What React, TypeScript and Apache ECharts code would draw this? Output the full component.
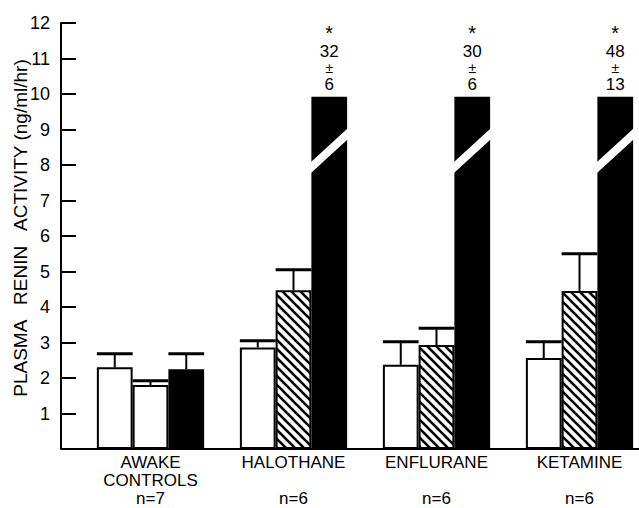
import React, { useEffect, useRef } from "react";
import * as echarts from "echarts";

// ---- data ----
const categories = ["AWAKE\nCONTROLS", "HALOTHANE", "ENFLURANE", "KETAMINE"];
const groupSizes = ["n=7", "n=6", "n=6", "n=6"];
const whiteMeans = [2.3, 2.86, 2.37, 2.56];
const whiteErr = [0.38, 0.19, 0.65, 0.46];
const hatchMeans = [1.8, 4.47, 2.93, 4.45];
const hatchErr = [0.12, 0.58, 0.47, 1.05];
const hatchedItems = [false, true, true, true];
const blackMeans = [2.25, 32, 30, 48];
const blackErr = [0.43, 6, 6, 13];
const yMin = 0;
const yMax = 12;
const yInterval = 1;

// ---- layout / style constants ----
const W = 639;
const H = 508;
const GRID_LEFT = 79;
const GRID_TOP = 23;
const GRID_W = 572;
const GRID_H = 426;
const Y_OFFSET = 18;
const BAR_FRAC = 0.25;
const BREAK_TOP = 9.92; // displayed height of broken bars
const BREAK_LOW = 7.9;
const BREAK_HIGH = 8.9;
const FONT = "'Liberation Sans', Arial, sans-serif";

function makeHatch(): HTMLCanvasElement {
  const c = document.createElement("canvas");
  const s = 9;
  c.width = s;
  c.height = s;
  const ctx = c.getContext("2d")!;
  ctx.fillStyle = "#fff";
  ctx.fillRect(0, 0, s, s);
  ctx.strokeStyle = "#000";
  ctx.lineWidth = 2.6;
  for (const k of [-s, 0, s]) {
    ctx.beginPath();
    ctx.moveTo(k - 1, -1);
    ctx.lineTo(k + s + 1, s + 1);
    ctx.stroke();
  }
  return c;
}

export default function App() {
  const ref = useRef<HTMLDivElement>(null);

  useEffect(() => {
    if (!ref.current) return;
    const chart = echarts.init(ref.current, undefined, { renderer: "svg" });
    const hatch = { image: makeHatch(), repeat: "repeat" as const };

    const barBase = {
      type: "bar" as const,
      barWidth: BAR_FRAC * 100 + "%",
      barGap: "0%",
      barCategoryGap: "25%",
    };

    const errData: number[][] = [];
    whiteMeans.forEach((m, i) => errData.push([i, m, whiteErr[i], 0]));
    hatchMeans.forEach((m, i) => errData.push([i, m, hatchErr[i], 1]));
    blackMeans.forEach((m, i) => {
      if (m <= BREAK_TOP) errData.push([i, m, blackErr[i], 2]);
    });
    const breakData: number[][] = [];
    blackMeans.forEach((m, i) => {
      if (m > BREAK_TOP) breakData.push([i, BREAK_TOP, 0, 2]);
    });

    const option: any = {
      animation: false,
      backgroundColor: "#fff",
      textStyle: { fontFamily: FONT, color: "#000" },
      grid: {
        left: GRID_LEFT,
        top: GRID_TOP,
        width: GRID_W,
        height: GRID_H,
        containLabel: false,
        outerBoundsMode: "none",
      },
      xAxis: {
        type: "category",
        data: categories,
        axisLine: { show: true, lineStyle: { color: "#000", width: 2 } },
        axisTick: { show: false },
        axisLabel: {
          interval: 0,
          margin: 4,
          color: "#000",
          fontFamily: FONT,
          fontSize: 17,
          lineHeight: 18,
          formatter: (v: string, i: number) => {
            const lines = v.split("\n");
            if (lines.length < 2) lines.push("");
            return lines.join("\n") + "\n" + groupSizes[i];
          },
        },
      },
      yAxis: {
        type: "value",
        min: yMin,
        max: yMax,
        interval: yInterval,
        offset: Y_OFFSET,
        name: "PLASMA   RENIN   ACTIVITY (ng/ml/hr)",
        nameLocation: "middle",
        nameGap: 31,
        nameMoveOverlap: false,
        nameTextStyle: {
          color: "#000",
          fontFamily: FONT,
          fontSize: 19,
          padding: [0, 0, 0, 16],
        },
        axisLine: { show: true, lineStyle: { color: "#000", width: 2 } },
        axisTick: { show: true, inside: true, length: 15, lineStyle: { color: "#000", width: 2 } },
        splitLine: { show: false },
        axisLabel: {
          color: "#000",
          fontFamily: FONT,
          fontSize: 18,
          margin: 11,
          formatter: (v: number) => (v === 0 ? "" : String(v)),
        },
      },
      graphic: [
        {
          type: "line",
          shape: {
            x1: GRID_LEFT - Y_OFFSET,
            y1: GRID_TOP + GRID_H,
            x2: GRID_LEFT + 1,
            y2: GRID_TOP + GRID_H,
          },
          style: { stroke: "#000", lineWidth: 2 },
          z: 10,
        },
      ],
      series: [
        {
          ...barBase,
          name: "white",
          data: whiteMeans,
          itemStyle: { color: "#fff", borderColor: "#000", borderWidth: 2 },
        },
        {
          ...barBase,
          name: "hatched",
          data: hatchMeans.map((m, i) =>
            hatchedItems[i] ? { value: m, itemStyle: { color: hatch } } : m
          ),
          itemStyle: { color: "#fff", borderColor: "#000", borderWidth: 2 },
        },
        {
          ...barBase,
          name: "black",
          data: blackMeans.map((m, i) =>
            m > BREAK_TOP
              ? {
                  value: BREAK_TOP,
                  label: {
                    show: true,
                    position: "top",
                    distance: 3,
                    color: "#000",
                    fontFamily: FONT,
                    formatter: `{a|*}\n{n|${m}}\n{p|±}\n{n|${blackErr[i]}}`,
                    rich: {
                      a: { fontSize: 20, lineHeight: 20, fontFamily: FONT, color: "#000" },
                      n: { fontSize: 17, lineHeight: 18, fontFamily: FONT, color: "#000" },
                      p: { fontSize: 14, lineHeight: 15, fontFamily: FONT, color: "#000" },
                    },
                  },
                }
              : m
          ),
          itemStyle: { color: "#000", borderColor: "#000", borderWidth: 2 },
        },
        {
          type: "custom",
          name: "error",
          z: 5,
          encode: { x: 0, y: 1 },
          data: errData,
          renderItem: (params: any, api: any) => {
            const cat = api.value(0);
            const mean = api.value(1);
            const err = api.value(2);
            const s = api.value(3);
            const band = api.size([1, 0])[0];
            const bw = band * BAR_FRAC;
            const cx = api.coord([cat, 0])[0] + (s - 1) * bw;
            const yTop = api.coord([cat, mean + err])[1];
            const yBar = api.coord([cat, mean])[1];
            return {
              type: "group",
              children: [
                {
                  type: "line",
                  shape: { x1: cx, y1: yBar, x2: cx, y2: yTop },
                  style: { stroke: "#000", lineWidth: 2 },
                },
                {
                  type: "line",
                  shape: { x1: cx - bw / 2, y1: yTop, x2: cx + bw / 2, y2: yTop },
                  style: { stroke: "#000", lineWidth: 3 },
                },
              ],
            };
          },
        },
        {
          type: "custom",
          name: "break",
          z: 6,
          encode: { x: 0, y: 1 },
          data: breakData,
          renderItem: (params: any, api: any) => {
            const cat = api.value(0);
            const s = api.value(3);
            const band = api.size([1, 0])[0];
            const bw = band * BAR_FRAC;
            const cx = api.coord([cat, 0])[0] + (s - 1) * bw;
            const xL = cx - bw / 2 - 1.5;
            const xR = cx + bw / 2 + 1.5;
            const yL = api.coord([cat, BREAK_LOW])[1];
            const yR = api.coord([cat, BREAK_HIGH])[1];
            const h = 5.5;
            return {
              type: "polygon",
              shape: {
                points: [
                  [xL, yL - h],
                  [xR, yR - h],
                  [xR, yR + h],
                  [xL, yL + h],
                ],
              },
              style: { fill: "#fff", stroke: "none" },
            };
          },
        },
      ],
    };

    chart.setOption(option);
    return () => chart.dispose();
  }, []);

  return (
    <div
      ref={ref}
      style={{ position: "fixed", left: 0, top: 0, width: W, height: H, background: "#fff" }}
    />
  );
}
